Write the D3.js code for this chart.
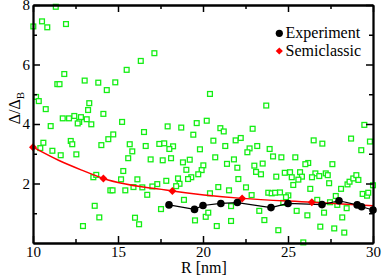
<!DOCTYPE html>
<html>
<head>
<meta charset="utf-8">
<script src="https://cdn.jsdelivr.net/npm/d3@7"></script>
<style>
  body { margin: 0; background: #fff; }
  svg { display: block; }
  svg text { font-family: "Liberation Serif", "Times New Roman", Times, serif !important; }
</style>
</head>
<body>
<div id="chart"></div>
<script>
// scattered green squares (R in nm, Delta/Delta_B)
var greenR = [11.34, 10.02, 10.53, 10.84, 11.94, 11.84, 11.43, 11.56, 13.04, 13.84, 14.34, 14.84, 15.51, 10.18, 17.14, 16.34,
  20.41, 10.34, 10.75, 11.75, 12.12, 12.43, 12.82, 13.16, 13.31, 13.24, 12.72, 12.63, 13.43, 14.14, 15.24, 11.04,
  14.43, 14.72, 12.22, 12.31, 14.02, 10.61, 10.43, 11.14, 11.63, 12.55, 15.69, 15.6, 15.31, 13.55, 13.72, 14.55,
  14.68, 15.43, 16.53, 17.92, 18.72, 19.63, 20.22, 21.02, 21.22, 19.43, 20.61, 21.92, 22.22, 15.84, 16.63, 17.43,
  17.72, 18.24, 18.02, 19.82, 21.31, 22.74, 22.61, 16.92, 17.63, 18.12, 18.82, 19.22, 20.72, 21.41, 21.82, 22.02,
  20.02, 19.92, 19.72, 19.02, 19.31, 19.12, 18.53, 18.62, 18.42, 17.84, 17.31, 17.02, 16.14, 15.91, 16.43, 20.9,
  21.53, 22.08, 22.53, 15.18, 23.72, 22.92, 29.49, 29.82, 28.71, 29.31, 26.51, 27.02, 23.19, 23.92, 24.12, 24.61,
  25.43, 26.19, 26.02, 27.61, 23.51, 23.02, 23.12, 23.41, 24.31, 24.81, 25.12, 25.22, 25.71, 25.82, 25.61, 25.31,
  26.61, 26.84, 26.41, 27.22, 27.34, 27.42, 26.31, 28.12, 28.5, 28.62, 28.84, 29.02, 29.14, 30.0, 13.63, 13.9,
  12.94, 16.72, 17.53, 20.41, 16.0, 16.24, 19.53, 20.16, 20.31, 20.81, 21.65, 21.65, 22.86, 23.84, 24.04, 24.24,
  24.53, 25.02, 24.88, 29.39, 29.65, 29.72, 27.81, 26.72, 27.47, 27.9, 24.72, 23.31, 25.51, 26.14, 27.12, 28.45,
  28.19, 23.61, 26.9, 27.72, 24.43, 28.31, 25.9, 18.88];
var greenVal = [7.94, 7.28, 7.45, 7.25, 7.36, 5.68, 5.34, 5.34, 5.46, 5.39, 5.14, 5.40, 5.82, 4.91, 6.38, 6.12,
  5.01, 4.77, 4.50, 4.19, 4.19, 4.27, 4.23, 4.16, 4.70, 4.47, 4.07, 4.02, 3.99, 4.34, 4.07, 3.93,
  3.49, 3.65, 3.43, 3.32, 3.29, 3.37, 3.19, 3.10, 2.95, 2.98, 3.32, 2.85, 2.42, 2.21, 2.29, 1.77,
  1.77, 1.77, 3.73, 3.92, 3.88, 4.03, 4.11, 3.86, 3.75, 3.64, 3.44, 3.45, 3.53, 3.08, 3.26, 3.33,
  3.35, 3.25, 3.16, 3.15, 3.26, 3.18, 3.05, 2.81, 2.78, 2.85, 2.71, 2.80, 2.88, 2.66, 2.81, 2.53,
  2.61, 2.45, 2.31, 2.46, 2.21, 2.15, 2.17, 1.99, 1.91, 2.09, 1.98, 1.90, 2.14, 1.88, 1.87, 1.88,
  1.77, 2.15, 1.87, 2.14, 4.62, 3.84, 3.97, 3.41, 3.51, 3.12, 3.45, 3.34, 3.26, 3.16, 2.91, 2.88,
  2.88, 2.69, 2.65, 2.65, 2.67, 2.60, 2.39, 2.31, 2.23, 2.36, 2.38, 2.21, 2.38, 2.23, 2.13, 1.95,
  2.34, 2.25, 2.21, 2.34, 2.28, 2.01, 1.82, 1.82, 1.97, 2.06, 2.17, 2.28, 2.12, 1.94, 1.25, 0.86,
  0.57, 1.62, 1.14, 1.67, 0.85, 0.63, 0.76, 0.88, 1.02, 0.57, 1.24, 0.74, 1.61, 1.69, 1.67, 1.69,
  1.70, 1.60, 1.54, 1.65, 1.59, 1.69, 1.58, 1.45, 1.37, 1.28, 1.35, 1.08, 1.08, 0.93, 1.02, 1.17,
  0.86, 0.77, 0.55, 0.49, 0.43, 0.35, 0.02, 1.45];

// Experiment (black circles)
var expR = [18.0, 19.5, 20.0, 21.05, 22.02, 24.0, 25.0, 27.0, 28.0, 29.07, 29.33, 30.0];
var expVal = [1.28, 1.13, 1.26, 1.33, 1.36, 1.19, 1.33, 1.29, 1.42, 1.28, 1.22, 1.11];

// Semiclassic (red diamonds) and the red line through them
var semiR = [10, 14.14, 18.2, 22.3, 26.4];
var semiVal = [3.22, 2.17, 1.75, 1.50, 1.37];
var lineR = [10, 11.5, 12.86, 14.14, 18.2, 22.3, 26.4, 30];
var lineVal = [3.22, 2.78, 2.45, 2.17, 1.75, 1.50, 1.37, 1.25];

var xTicks = [10, 15, 20, 25, 30];
var xMinor = [12.5, 17.5, 22.5, 27.5];
var yTicks = [2, 4, 6, 8];
var yMinor = [1, 3, 5, 7];
var legendNames = ["Experiment", "Semiclassic"];

var svgWidth = 382, svgHeight = 276;
var serif = "'Liberation Serif', 'Times New Roman', serif";

var svg = d3.select("#chart").append("svg")
    .attr("width", svgWidth)
    .attr("height", svgHeight)
    .attr("font-family", serif);

svg.append("rect").attr("width", svgWidth).attr("height", svgHeight).attr("fill", "#fff");

var x = d3.scaleLinear().domain([10, 30]).range([33, 373]);
var y = d3.scaleLinear().domain([0, 8]).range([243, 5]);

function zip(a, b) { return a.map(function(v, i) { return [v, b[i]]; }); }

var green = zip(greenR, greenVal);
var exp = zip(expR, expVal);
var semi = zip(semiR, semiVal);
var semiLine = zip(lineR, lineVal);

// green squares
var sq = 4.8;
svg.append("g").selectAll("rect")
    .data(green)
    .enter()
    .append("rect")
    .attr("x", d => x(d[0]) - sq / 2)
    .attr("y", d => y(d[1]) - sq / 2)
    .attr("width", sq)
    .attr("height", sq)
    .attr("fill", "#fff")
    .attr("stroke", "#14ee14")
    .attr("stroke-width", 1.3);

// red curve
svg.append("path")
    .datum(semiLine)
    .attr("fill", "none")
    .attr("stroke", "#ff0000")
    .attr("stroke-width", 1.5)
    .attr("d", d3.line().x(d => x(d[0])).y(d => y(d[1])).curve(d3.curveMonotoneX));

// black line
svg.append("path")
    .datum(exp)
    .attr("fill", "none")
    .attr("stroke", "#000")
    .attr("stroke-width", 1.2)
    .attr("d", d3.line().x(d => x(d[0])).y(d => y(d[1])));

function diamond(r) { return "M0," + (-r) + "L" + r + ",0L0," + r + "L" + (-r) + ",0Z"; }

svg.append("g").selectAll("path")
    .data(semi)
    .enter()
    .append("path")
    .attr("transform", d => `translate(${x(d[0])},${y(d[1])})`)
    .attr("d", diamond(4))
    .attr("fill", "#ff0000");

svg.append("g").selectAll("circle")
    .data(exp)
    .enter()
    .append("circle")
    .attr("cx", d => x(d[0]))
    .attr("cy", d => y(d[1]))
    .attr("r", 3.8)
    .attr("fill", "#000");

// axes, ticks pointing inward
function styleAxis(g) {
    g.attr("font-family", serif).attr("font-size", 15);
    g.selectAll("path.domain").attr("stroke", "#000").attr("stroke-width", 1.8);
    g.selectAll(".tick line").attr("stroke", "#000").attr("stroke-width", 1.5);
    g.selectAll("text").attr("fill", "#000");
}

svg.append("g")
    .attr("transform", `translate(0,${y(0)})`)
    .call(d3.axisBottom(x).tickValues(xTicks).tickSize(-7).tickSizeOuter(0).tickPadding(3).tickFormat(d3.format("d")))
    .call(styleAxis);
svg.append("g")
    .attr("transform", `translate(0,${y(0)})`)
    .call(d3.axisBottom(x).tickValues(xMinor).tickSize(-4).tickSizeOuter(0).tickFormat(""))
    .call(styleAxis);
svg.append("g")
    .attr("transform", `translate(0,${y(8)})`)
    .call(d3.axisTop(x).tickValues(xTicks).tickSize(-7).tickSizeOuter(0).tickFormat(""))
    .call(styleAxis);
svg.append("g")
    .attr("transform", `translate(0,${y(8)})`)
    .call(d3.axisTop(x).tickValues(xMinor).tickSize(-4).tickSizeOuter(0).tickFormat(""))
    .call(styleAxis);

svg.append("g")
    .attr("transform", `translate(${x(10)},0)`)
    .call(d3.axisLeft(y).tickValues(yTicks).tickSize(-7).tickSizeOuter(0).tickPadding(3).tickFormat(d3.format("d")))
    .call(styleAxis);
svg.append("g")
    .attr("transform", `translate(${x(10)},0)`)
    .call(d3.axisLeft(y).tickValues(yMinor).tickSize(-4).tickSizeOuter(0).tickFormat(""))
    .call(styleAxis);
svg.append("g")
    .attr("transform", `translate(${x(30)},0)`)
    .call(d3.axisRight(y).tickValues(yTicks).tickSize(-7).tickSizeOuter(0).tickFormat(""))
    .call(styleAxis);
svg.append("g")
    .attr("transform", `translate(${x(30)},0)`)
    .call(d3.axisRight(y).tickValues(yMinor).tickSize(-4).tickSizeOuter(0).tickFormat(""))
    .call(styleAxis);

// axis titles
svg.append("text")
    .attr("x", 204)
    .attr("y", 273)
    .attr("text-anchor", "middle")
    .attr("font-size", 16)
    .text("R [nm]");

var yLab = svg.append("text")
    .attr("transform", "translate(20,108) rotate(-90)")
    .attr("text-anchor", "middle")
    .attr("font-size", 16);
yLab.append("tspan").text("\u0394/\u0394");
yLab.append("tspan").attr("font-size", 11).attr("dy", 4).text("B");

// legend
var legend = svg.append("g");
legend.append("circle").attr("cx", 279.3).attr("cy", 33.3).attr("r", 3.6).attr("fill", "#000");
legend.append("path").attr("transform", "translate(279.3,51)").attr("d", diamond(3.6)).attr("fill", "#ff0000");
legend.selectAll("text")
    .data(legendNames)
    .enter()
    .append("text")
    .attr("x", 285.5)
    .attr("y", (d, i) => 37.5 + i * 18.5)
    .attr("font-size", 16)
    .text(d => d);
</script>
</body>
</html>
